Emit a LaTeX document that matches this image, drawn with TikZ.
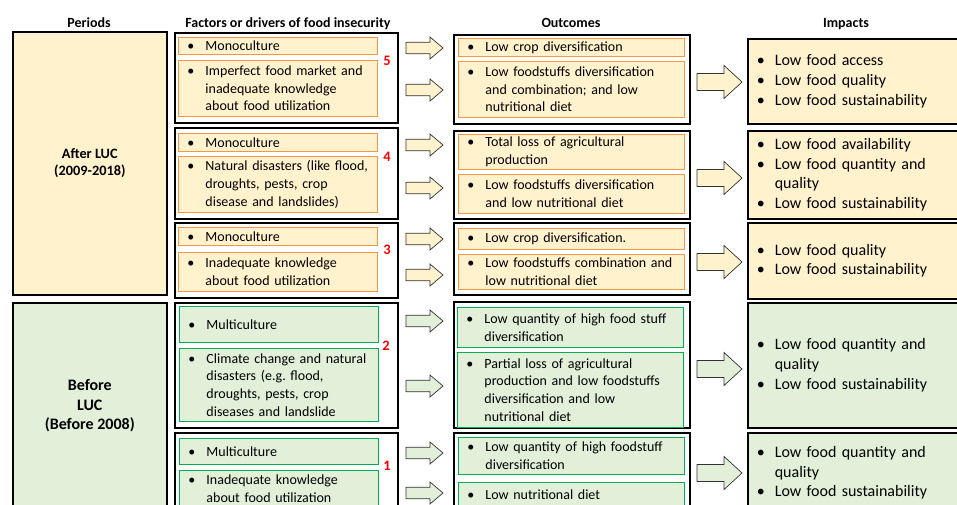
\documentclass[tikz,border=0pt]{standalone}
\usepackage{fontspec}
\setmainfont{Carlito}
\frenchspacing
\definecolor{cream}{HTML}{FFF2CC}
\definecolor{mint}{HTML}{E2F0D9}
\definecolor{ochre}{HTML}{F79646}
\definecolor{leaf}{HTML}{00B050}
\newcommand\itm[1]{\hangindent=18pt\hangafter=1\leavevmode\hbox to 18pt{\textbullet\hfil}#1\par}
\tikzset{
  grp/.style={draw, line width=1.6pt, anchor=north west, inner sep=0pt},
  itembox/.style={line width=.9pt, anchor=north west, inner xsep=9pt, inner ysep=0pt, font=\fontsize{14}{17.6}\selectfont\raggedright},
  orng/.style={draw=ochre, fill=cream},
  grn/.style={draw=leaf, fill=mint},
  drv/.style={itembox, text width=181pt, minimum width=199pt},
  res/.style={itembox, text width=208pt, minimum width=226pt},
  impact/.style={grp, inner xsep=9pt, text width=212pt, font=\fontsize{16}{19.8}\selectfont\raggedright},
  period/.style={grp, minimum width=154pt, align=center},
  head/.style={anchor=base, font=\bfseries\fontsize{14}{17}\selectfont},
  num/.style={inner sep=0pt, text=red, font=\bfseries\fontsize{14.5}{17}\selectfont},
  pics/smallarrow/.style={code={\draw[line width=.7pt, draw=black!80, fill=#1] (0,-5.8) -- (24,-5.8) -- (24,-11) -- (37,0) -- (24,11) -- (24,5.8) -- (0,5.8) -- cycle;}},
  pics/bigarrow/.style={code={\draw[line width=.7pt, draw=black!80, fill=#1] (0,-8.5) -- (27,-8.5) -- (27,-16.5) -- (45,0) -- (27,16.5) -- (27,8.5) -- (0,8.5) -- cycle;}},
}
\begin{document}
\begin{tikzpicture}[x=1pt, y=-1pt]
  \useasboundingbox (0,0) rectangle (957,505);
  \clip (0,0) rectangle (957,505);
  % column headers
  \node[head] (hper) at (89,28) {Periods};
  \node[head] (hfac) at (288,28) {Factors or drivers of food insecurity};
  \node[head] (hout) at (571,28) {Outcomes};
  \node[head] (himp) at (846,28) {Impacts};
  % periods
  \node[period, fill=cream, minimum height=263pt, font=\bfseries\fontsize{14.3}{17.5}\selectfont] (after) at (12,31) {After LUC\\(2009-2018)};
  \node[period, fill=mint, minimum height=206pt, font=\bfseries\fontsize{16}{19.6}\selectfont] (before) at (12,302) {Before\\LUC\\(Before 2008)};
  % groups of factors
  \node[grp, minimum width=223pt, minimum height=90pt] (fg5) at (174,32) {};
  \node[grp, minimum width=223pt, minimum height=91pt] (fg4) at (174,127) {};
  \node[grp, minimum width=223pt, minimum height=75pt] (fg3) at (174,222) {};
  \node[grp, minimum width=223pt, minimum height=125pt] (fg2) at (174,302) {};
  \node[grp, minimum width=223pt, minimum height=90pt] (fg1) at (174,432) {};
  \node[drv, orng, minimum height=17pt] (f5a) at (178,37) {\itm{Monoculture}};
  \node[drv, orng, minimum height=56pt] (f5b) at (178,60) {\itm{Imperfect food market and\newline inadequate knowledge\newline about food utilization}};
  \node[drv, orng, minimum height=18pt] (f4a) at (178,133) {\itm{Monoculture}};
  \node[drv, orng, minimum height=56pt] (f4b) at (178,156) {\itm{Natural disasters (like flood,\newline droughts, pests, crop\newline disease and landslides)}};
  \node[drv, orng, minimum height=18pt] (f3a) at (178,227) {\itm{Monoculture}};
  \node[drv, orng, minimum height=39pt] (f3b) at (178,252) {\itm{Inadequate knowledge\newline about food utilization}};
  \node[drv, grn, minimum height=36pt] (f2a) at (179,306) {\itm{Multiculture}};
  \node[drv, grn, minimum height=73pt] (f2b) at (179,348) {\itm{Climate change and natural\newline disasters (e.g. flood,\newline droughts, pests, crop\newline diseases and landslide}};
  \node[drv, grn, minimum height=26pt] (f1a) at (179,438) {\itm{Multiculture}};
  \node[drv, grn, minimum height=37pt] (f1b) at (179,470) {\itm{Inadequate knowledge\newline about food utilization}};
  \node[num] (n5) at (387,61) {5};
  \node[num] (n4) at (387,157) {4};
  \node[num] (n3) at (387,250) {3};
  \node[num] (n2) at (386,346) {2};
  \node[num] (n1) at (387,466) {1};
  % factors -> outcomes
  \pic (a5a) at (406,48) {smallarrow=cream};
  \pic (a5b) at (406,90) {smallarrow=cream};
  \pic (a4a) at (406,145) {smallarrow=cream};
  \pic (a4b) at (406,188) {smallarrow=cream};
  \pic (a3a) at (406,239) {smallarrow=cream};
  \pic (a3b) at (406,275) {smallarrow=cream};
  \pic (a2a) at (406,321) {smallarrow=mint};
  \pic (a2b) at (406,386) {smallarrow=mint};
  \pic (a1a) at (406,453) {smallarrow=mint};
  \pic (a1b) at (406,493) {smallarrow=mint};
  % groups of outcomes
  \node[grp, minimum width=236pt, minimum height=89pt] (og5) at (453,34) {};
  \node[grp, minimum width=236pt, minimum height=88pt] (og4) at (453,130) {};
  \node[grp, minimum width=236pt, minimum height=72pt] (og3) at (453,222) {};
  \node[grp, minimum width=236pt, minimum height=126pt] (og2) at (453,301) {};
  \node[grp, minimum width=236pt, minimum height=90pt] (og1) at (453,432) {};
  \node[res, orng, minimum height=18pt] (o5a) at (458,38) {\itm{Low crop diversification}};
  \node[res, orng, minimum height=56pt] (o5b) at (458,61) {\itm{Low foodstuffs diversification\newline and combination; and low\newline nutritional diet}};
  \node[res, orng, minimum height=35pt] (o4a) at (458,134) {\itm{Total loss of agricultural\newline production}};
  \node[res, orng, minimum height=39pt] (o4b) at (458,174) {\itm{Low foodstuffs diversification\newline and low nutritional diet}};
  \node[res, orng, minimum height=21pt] (o3a) at (458,228) {\itm{Low crop diversification.}};
  \node[res, orng, minimum height=35pt] (o3b) at (458,254) {\itm{Low foodstuffs combination and\newline low nutritional diet}};
  \node[res, grn, minimum height=40pt] (o2a) at (457,307) {\itm{Low quantity of high food stuff\newline diversification}};
  \node[res, grn, minimum height=75pt] (o2b) at (457,352) {\itm{Partial loss of agricultural\newline production and low foodstuffs\newline diversification and low\newline nutritional diet}};
  \node[res, grn, minimum height=37pt] (o1a) at (458,437) {\itm{Low quantity of high foodstuff\newline diversification}};
  \node[res, grn, minimum height=24pt] (o1b) at (458,482) {\itm{Low nutritional diet}};
  % outcomes -> impacts
  \pic (b5) at (697,82) {bigarrow=cream};
  \pic (b4) at (697,178) {bigarrow=cream};
  \pic (b3) at (697,262) {bigarrow=cream};
  \pic (b2) at (697,369) {bigarrow=mint};
  \pic (b1) at (697,473) {bigarrow=mint};
  % impacts
  \node[impact, fill=cream, minimum height=85pt] (i5) at (747,38) {\itm{Low food access}\itm{Low food quality}\itm{Low food sustainability}};
  \node[impact, fill=cream, minimum height=88pt] (i4) at (747,130) {\itm{Low food availability}\itm{Low food quantity and\newline quality}\itm{Low food sustainability}};
  \node[impact, fill=cream, minimum height=76pt] (i3) at (747,222) {\itm{Low food quality}\itm{Low food sustainability}};
  \node[impact, fill=mint, minimum height=125pt] (i2) at (747,302) {\itm{Low food quantity and\newline quality}\itm{Low food sustainability}};
  \node[impact, fill=mint, minimum height=80pt] (i1) at (747,432) {\itm{Low food quantity and\newline quality}\itm{Low food sustainability}};
\end{tikzpicture}
\end{document}
